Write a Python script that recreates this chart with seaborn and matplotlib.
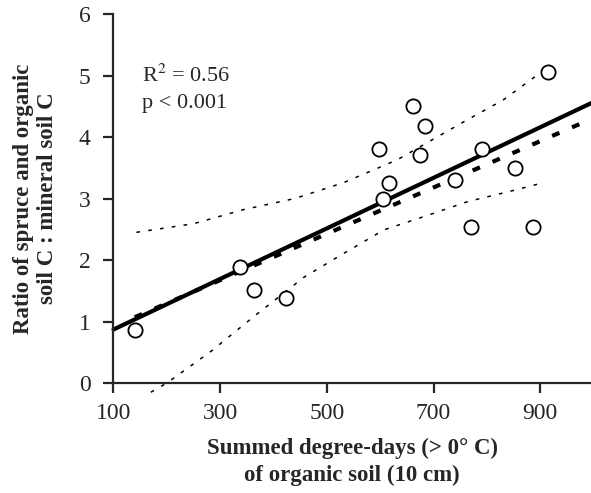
"""
Spruce + organic soil C : mineral soil C ratio vs summed degree-days.
"""

import pandas as pd
import matplotlib
matplotlib.use('Agg')
import matplotlib.pyplot as plt
import seaborn as sns

sns.set_style('ticks')
plt.rcParams.update({
    'font.family': ['Liberation Serif', 'DejaVu Serif'],
    'mathtext.fontset': 'stix',
    'axes.linewidth': 1.6,
})

# observed sites
degree_days = [140, 337, 363, 423, 597, 605, 617, 661, 674, 683,
               741, 770, 790, 852, 886, 914]
c_ratio = [0.87, 1.89, 1.52, 1.38, 3.80, 2.99, 3.26, 4.51, 3.70, 4.18,
           3.30, 2.53, 3.80, 3.49, 2.53, 5.05]

# fitted lines (read at their end points)
fit_x = [100, 1000]
fit_y = [0.87, 4.57]
alt_x = [140, 1000]
alt_y = [1.07, 4.31]

# confidence band
upper_x = [143, 250, 344, 440, 532, 632, 757, 830, 890]
upper_y = [2.45, 2.59, 2.82, 3.00, 3.26, 3.63, 4.25, 4.60, 4.98]
lower_x = [170, 200, 282, 363, 457, 530, 607, 690, 764, 840, 907]
lower_y = [-0.15, 0.0, 0.51, 1.08, 1.72, 2.10, 2.49, 2.73, 2.95, 3.11, 3.26]

pts = pd.DataFrame({'dd': degree_days, 'ratio': c_ratio})

fig = plt.figure(figsize=(5.91, 4.93), dpi=100)
ax = fig.add_axes([0.192, 0.2231, 0.808, 0.7485])

# confidence band (thin dotted)
for bx, by in [(upper_x, upper_y), (lower_x, lower_y)]:
    ln = sns.lineplot(x=bx, y=by, ax=ax, color='black', lw=1.1, sort=False)
    ln.lines[-1].set_dashes((2.4, 5.4))
    ln.lines[-1].set_clip_on(False)

sns.lineplot(x=alt_x, y=alt_y, ax=ax, color='black', lw=3.0)
ax.lines[-1].set_dashes((1.9, 3.3))
sns.lineplot(x=fit_x, y=fit_y, ax=ax, color='black', lw=3.0)
ax.lines[-1].set_clip_on(False)

sns.scatterplot(data=pts, x='dd', y='ratio', ax=ax, s=105, marker='o',
                facecolor='white', edgecolor='black', linewidth=1.3,
                zorder=5, clip_on=False)

ax.set_xlim(100, 995)
ax.set_ylim(0, 6)
ax.set_xticks([100, 300, 500, 700, 900])
ax.set_yticks(range(0, 7))
ax.tick_params(axis='both', labelsize=17, length=7.5, width=1.6, direction='out')
ax.tick_params(axis='y', pad=9)
ax.tick_params(axis='x', pad=7)
sns.despine(ax=ax)

ax.set_xlabel('Summed degree-days (> 0° C)\nof organic soil (10 cm)',
              fontsize=16.5, fontweight='bold', labelpad=10, linespacing=1.35)
ax.set_ylabel('Ratio of spruce and organic\nsoil C : mineral soil C',
              fontsize=16.5, fontweight='bold', labelpad=15, linespacing=1.2)

ax.text(0.059, 0.816, 'R$^{2}$ = 0.56', transform=ax.transAxes, fontsize=16,
        va='baseline')
ax.text(0.059, 0.745, 'p < 0.001', transform=ax.transAxes, fontsize=16,
        va='baseline')

fig.savefig('out.png', dpi=100, facecolor='white')
plt.close(fig)
